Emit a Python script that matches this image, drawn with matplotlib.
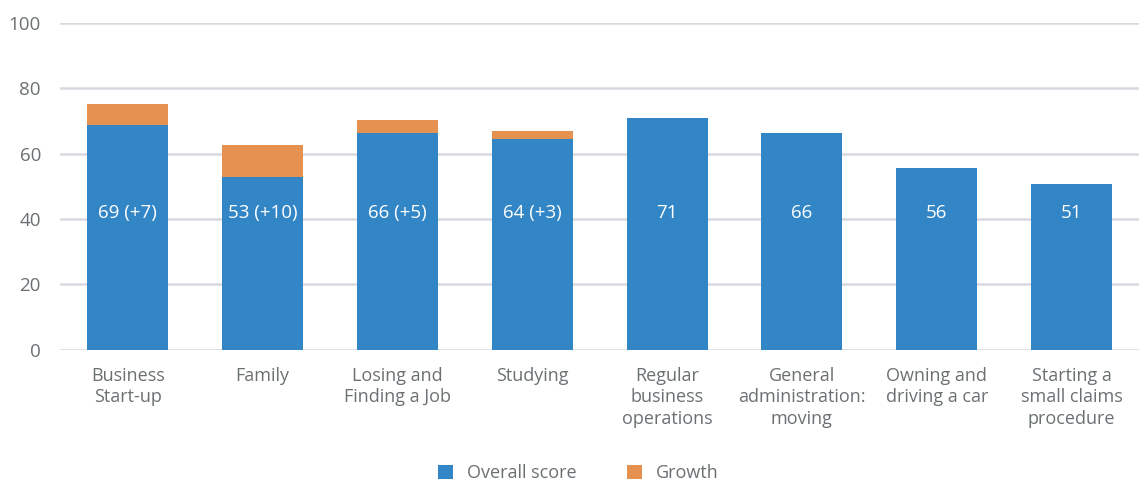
import matplotlib
matplotlib.use("Agg")
import matplotlib.pyplot as plt
import numpy as np

categories = [
    "Business\nStart-up",
    "Family",
    "Losing and\nFinding a Job",
    "Studying",
    "Regular\nbusiness\noperations",
    "General\nadministration:\nmoving",
    "Owning and\ndriving a car",
    "Starting a\nsmall claims\nprocedure",
]
overall = [68.6, 52.9, 66.4, 64.5, 71.0, 66.4, 55.7, 50.8]
growth = [6.6, 9.8, 4.0, 2.5, 0, 0, 0, 0]
bar_labels = ["69 (+7)", "53 (+10)", "66 (+5)", "64 (+3)", "71", "66", "56", "51"]

BLUE = "#3386c6"
ORANGE = "#e79150"
GRID = "#d6d9e0"
TEXT = "#6b7073"

plt.rcParams['font.family'] = ['Open Sans', 'DejaVu Sans']

fig = plt.figure(figsize=(11.39, 4.84), dpi=100)
ax = fig.add_axes([0.053, 0.277, 0.947, 0.676])

x = np.arange(len(categories))
width = 0.6
ax.bar(x, overall, width, color=BLUE, label="Overall score", zorder=3)
ax.bar(x, growth, width, bottom=overall, color=ORANGE, label="Growth", zorder=3)

for xi, lab in zip(x, bar_labels):
    ax.text(xi, 42, lab, ha="center", va="center", color="white", fontsize=13.5, zorder=4)

ax.set_xlim(-0.5, len(categories) - 0.5)
ax.set_ylim(0, 100)
ax.set_yticks([0, 20, 40, 60, 80, 100])
ax.grid(axis="y", color=GRID, linewidth=1.8, zorder=0)
ax.set_xticks(x)
ax.set_xticklabels(categories, color=TEXT, fontsize=13, linespacing=1.25, va="top")
ax.tick_params(axis="y", colors=TEXT, labelsize=13.5, length=0, pad=14)
ax.tick_params(axis="x", length=0, pad=12)
for s in ax.spines.values():
    s.set_visible(False)

fig.legend(loc="lower center", bbox_to_anchor=(0.508, -0.03), ncol=2, frameon=False,
           fontsize=13, labelcolor=TEXT, handlelength=0.8, handleheight=0.8,
           columnspacing=2.8, handletextpad=0.8)

fig.savefig("out.png", dpi=100)
